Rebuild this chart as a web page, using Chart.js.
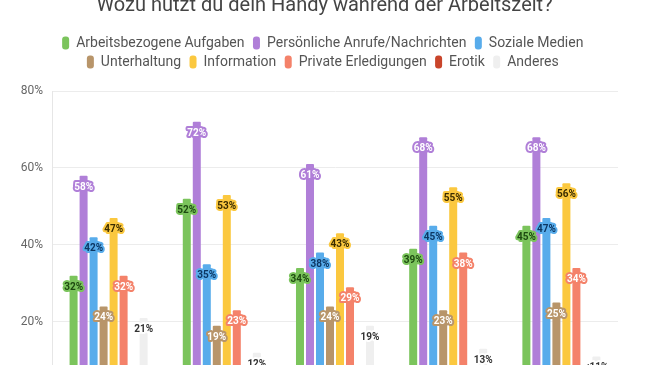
<!DOCTYPE html>
<html>
<head>
<meta charset="utf-8">
<script src="https://cdn.jsdelivr.net/npm/chart.js@4.4.1/dist/chart.umd.min.js"></script>
<style>
  html, body { margin: 0; padding: 0; background: #fff; overflow: hidden; }
  #wrap { position: absolute; left: 0; top: -14px; width: 649px; height: 429px; }
</style>
</head>
<body>
<div id="wrap"><canvas id="c"></canvas></div>
<script>
const titleText = 'Wozu nutzt du dein Handy während der Arbeitszeit?';
const categories = ['Gruppe 1', 'Gruppe 2', 'Gruppe 3', 'Gruppe 4', 'Gruppe 5'];
const seriesNames = ['Arbeitsbezogene Aufgaben', 'Persönliche Anrufe/Nachrichten', 'Soziale Medien',
  'Unterhaltung', 'Information', 'Private Erledigungen', 'Erotik', 'Anderes'];
const arbeit      = [32, 52, 34, 39, 45];
const persoenlich = [58, 72, 61, 68, 68];
const sozial      = [42, 35, 38, 45, 47];
const unterhaltung= [24, 19, 24, 23, 25];
const information = [47, 53, 43, 55, 56];
const privat      = [32, 23, 29, 38, 34];
const erotik      = [4, 3, 3, 4, 3];
const anderes     = [21, 12, 19, 13, 11];
const anderesLabels = ['21%', '12%', '19%', '13%', '<11%'];
const yTicks = [0, 20, 40, 60, 80];

const colors     = ['#7bc45c', '#b07fd8', '#58aceb', '#b8956a', '#fbc83f', '#f4826a', '#c9452b', '#efefef'];
const textColors = ['#1d4a10', '#ffffff', '#0c3763', '#ffffff', '#3a2c00', '#ffffff', '#ffffff', '#333333'];
const seriesData = [arbeit, persoenlich, sozial, unterhaltung, information, privat, erotik, anderes];

const datasets = seriesNames.map((name, i) => ({
  label: name,
  data: seriesData[i],
  backgroundColor: colors[i],
  borderWidth: 0,
  borderRadius: 1,
  categoryPercentage: 0.707,
  barPercentage: 0.8
}));

function spacer(position, size, weight) {
  return {
    position, weight, fullSize: false, options: {},
    top: 0, left: 0, right: 0, bottom: 0, width: 0, height: 0,
    isHorizontal() { return position === 'top' || position === 'bottom'; },
    update(maxWidth, maxHeight) {
      if (this.isHorizontal()) { this.width = maxWidth; this.height = size; }
      else { this.width = size; this.height = maxHeight; }
    },
    draw() {}
  };
}

const spacerPlugin = {
  id: 'spacers',
  beforeInit(chart) {
    Chart.layouts.addBox(chart, spacer('top', 12, 500));
    Chart.layouts.addBox(chart, spacer('right', 31, 0));
  },
  afterInit(chart) {
    // wrap legend rows as in the reference (narrower wrap width, still centred on the canvas)
    const lg = chart.legend;
    if (lg) {
      const orig = lg.update.bind(lg);
      lg.update = (mw, mh, margins) => orig(mw - 60, mh, margins);
    }
  }
};

const labelPlugin = {
  id: 'barLabels',
  afterDatasetsDraw(chart) {
    const ctx = chart.ctx;
    ctx.save();
    ctx.font = 'bold 10px Roboto';
    ctx.textAlign = 'center';
    ctx.textBaseline = 'middle';
    ctx.lineJoin = 'round';
    chart.data.datasets.forEach((ds, di) => {
      const meta = chart.getDatasetMeta(di);
      meta.data.forEach((bar, i) => {
        const txt = di === 7 ? anderesLabels[i] : ds.data[i] + '%';
        const y = bar.y + 11.5;
        ctx.lineWidth = 4;
        ctx.strokeStyle = di === 7 ? '#ffffff' : colors[di];
        ctx.strokeText(txt, bar.x, y);
        ctx.fillStyle = textColors[di];
        ctx.fillText(txt, bar.x, y);
      });
    });
    ctx.restore();
  }
};

new Chart(document.getElementById('c'), {
  type: 'bar',
  data: { labels: categories, datasets },
  plugins: [spacerPlugin, labelPlugin],
  options: {
    responsive: true,
    maintainAspectRatio: false,
    animation: false,
    layout: { padding: { left: 0, right: 0, top: 0, bottom: 4 } },
    plugins: {
      title: {
        display: true,
        text: titleText,
        color: '#444',
        font: { family: 'Roboto', size: 20, weight: 'normal' },
        padding: { top: 8, bottom: 13 }
      },
      legend: {
        display: true,
        position: 'top',
        labels: {
          color: '#555',
          font: { family: 'Roboto', size: 14 },
          boxWidth: 7,
          boxHeight: 13,
          padding: 5,
          useBorderRadius: true,
          borderRadius: 3,
          generateLabels(chart) {
            return Chart.defaults.plugins.legend.labels.generateLabels(chart)
              .map(l => Object.assign(l, { text: l.text + ' ' }));
          }
        }
      },
      tooltip: { enabled: false }
    },
    scales: {
      x: {
        grid: { display: false },
        border: { display: false },
        ticks: { display: false }
      },
      y: {
        min: 0,
        max: 80,
        afterBuildTicks(scale) { scale.ticks = yTicks.map(v => ({ value: v })); },
        afterFit(scale) { scale.width = 52; },
        grid: { color: '#ececec', drawTicks: false },
        border: { color: '#e6e6e6' },
        ticks: {
          color: '#666',
          font: { family: 'Roboto', size: 12 },
          padding: 9,
          callback: v => v + '%'
        }
      }
    }
  }
});
</script>
</body>
</html>
